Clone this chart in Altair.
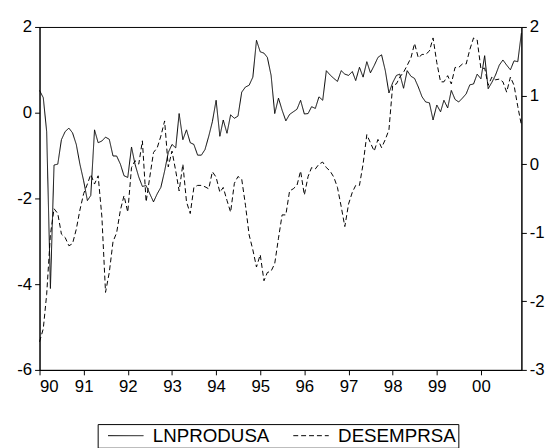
import altair as alt
import pandas as pd

# ---- data (monthly, Jan 1990 - Dec 2000) ----
series_names = ["LNPRODUSA", "DESEMPRSA"]
tick_years = list(range(1990, 2001))          # tick labels 90 ... 00
left_ticks = [-6, -4, -2, 0, 2]
right_ticks = [-3, -2, -1, 0, 1, 2]

lnprodusa = [
    0.52, 0.35, -0.44, -4.10, -1.22, -1.20, -0.63, -0.44, -0.36, -0.47, -0.74, -1.20,
    -1.59, -2.05, -1.93, -0.40, -0.70, -0.66, -0.57, -0.62, -1.01, -1.01, -1.20, -1.47,
    -1.51, -0.80, -1.20, -1.50, -1.72, -1.70, -1.89, -2.08, -1.89, -1.74, -1.36, -0.93,
    -0.74, -0.82, -0.02, -0.63, -0.40, -0.70, -0.74, -0.99, -0.99, -0.86, -0.55, -0.21,
    0.29, -0.55, -0.17, -0.48, -0.05, -0.13, -0.08, 0.48, 0.60, 0.64, 0.83, 1.69,
    1.42, 1.39, 1.29, 0.87, -0.02, 0.34, 0.06, -0.19, -0.04, 0.02, 0.08, 0.29,
    -0.03, -0.02, 0.14, 0.10, 0.37, 0.29, 0.98, 0.88, 0.80, 0.73, 0.98, 0.90,
    0.87, 0.96, 0.75, 1.06, 0.83, 1.19, 0.93, 1.10, 1.29, 1.35, 0.98, 0.46,
    0.70, 0.87, 0.90, 0.57, 0.98, 0.85, 0.80, 0.60, 0.37, 0.25, 0.23, -0.17,
    0.18, 0.02, 0.29, 0.11, 0.52, 0.31, 0.25, 0.34, 0.44, 0.65, 0.67, 0.90,
    0.79, 1.33, 0.56, 0.71, 0.88, 1.11, 1.23, 1.11, 1.00, 1.21, 1.19, 1.86,
]

desemprsa = [
    -2.59, -2.40, -1.90, -1.03, -0.65, -0.72, -1.02, -1.07, -1.19, -1.16, -0.95, -0.67,
    -0.43, -0.29, -0.15, -0.29, -0.17, -0.77, -1.87, -1.58, -1.13, -1.00, -0.67, -0.46,
    -0.70, -0.05, 0.05, 0.00, 0.34, -0.55, -0.19, 0.17, 0.24, 0.41, 0.63, -0.04,
    0.19, -0.10, -0.39, 0.00, -0.55, -0.72, -0.34, -0.31, -0.31, -0.33, -0.36, -0.11,
    -0.19, -0.41, -0.34, -0.53, -0.70, -0.28, -0.18, -0.22, -0.60, -1.03, -1.25, -1.50,
    -1.32, -1.70, -1.58, -1.56, -1.45, -1.08, -0.74, -0.74, -0.39, -0.36, -0.31, -0.10,
    -0.45, -0.18, -0.05, -0.07, 0.00, 0.03, -0.05, -0.10, -0.19, -0.34, -0.62, -0.91,
    -0.58, -0.41, -0.31, -0.31, 0.00, 0.43, 0.31, 0.19, 0.36, 0.24, 0.36, 0.50,
    1.15, 1.17, 1.27, 1.34, 1.44, 1.55, 1.76, 1.55, 1.60, 1.60, 1.65, 1.84,
    1.48, 1.20, 1.20, 1.29, 1.17, 1.41, 1.41, 1.46, 1.46, 1.67, 1.84, 1.81,
    1.39, 1.40, 1.15, 1.27, 1.23, 1.24, 1.20, 1.05, 1.27, 1.15, 0.84, 0.57,
]

months = pd.date_range("1990-01-01", periods=len(lnprodusa), freq="MS")
df = pd.DataFrame({
    "date": list(months) + list(months),
    "series": [series_names[0]] * len(lnprodusa) + [series_names[1]] * len(desemprsa),
    "value": lnprodusa + desemprsa,
})

FONT = "Liberation Sans"

x_enc = alt.X(
    "date:T",
    scale=alt.Scale(domain=[alt.DateTime(year=1990, month=1, date=1),
                            alt.DateTime(year=2000, month=12, date=1)], nice=False),
    axis=alt.Axis(format="%y", values=[alt.DateTime(year=y, month=1, date=1) for y in tick_years],
                  title=None, labelAngle=0, labelPadding=4),
)

dash_enc = alt.StrokeDash(
    "series:N",
    scale=alt.Scale(domain=series_names, range=[[1, 0], [5, 3]]),
    legend=alt.Legend(
        title=None, orient="none", legendX=59, legendY=403, direction="horizontal",
        strokeColor="black", fillColor="white", padding=2, cornerRadius=0,
        symbolType="M-4,0H4", symbolSize=81, symbolStrokeWidth=1,
        symbolStrokeColor="black", symbolFillColor="transparent", symbolOffset=17,
        labelFont=FONT, labelFontSize=19,
        labelColor="black", labelOffset=18, columnPadding=15,
    ),
)

base = alt.Chart(df).encode(x=x_enc, strokeDash=dash_enc)

left = base.transform_filter(alt.datum.series == series_names[0]).mark_line(
    color="black", strokeWidth=1
).encode(
    y=alt.Y("value:Q", scale=alt.Scale(domain=[-6, 2], nice=False),
            axis=alt.Axis(orient="left", values=left_ticks, title=None,
                          labelExpr="toString(datum.value)"))
)

right = base.transform_filter(alt.datum.series == series_names[1]).mark_line(
    color="black", strokeWidth=1
).encode(
    y=alt.Y("value:Q", scale=alt.Scale(domain=[-3, 2], nice=False),
            axis=alt.Axis(orient="right", values=right_ticks, title=None,
                          labelExpr="toString(datum.value)"))
)

chart = alt.layer(left, right).resolve_scale(y="independent").properties(
    width=489, height=348,
    autosize=alt.AutoSizeParams(type="none"),
    padding={"left": 32, "top": 16, "right": 28, "bottom": 76},
    background="white",
).configure_view(
    stroke="black", strokeWidth=1
).configure_axis(
    labelFont=FONT, labelFontSize=17, labelColor="black",
    domainColor="black", tickColor="black", grid=False,
    tickSize=5, labelPadding=3, domainWidth=1, tickWidth=1,
)

chart.save("out.html", embed_options={"renderer": "svg", "actions": False})
